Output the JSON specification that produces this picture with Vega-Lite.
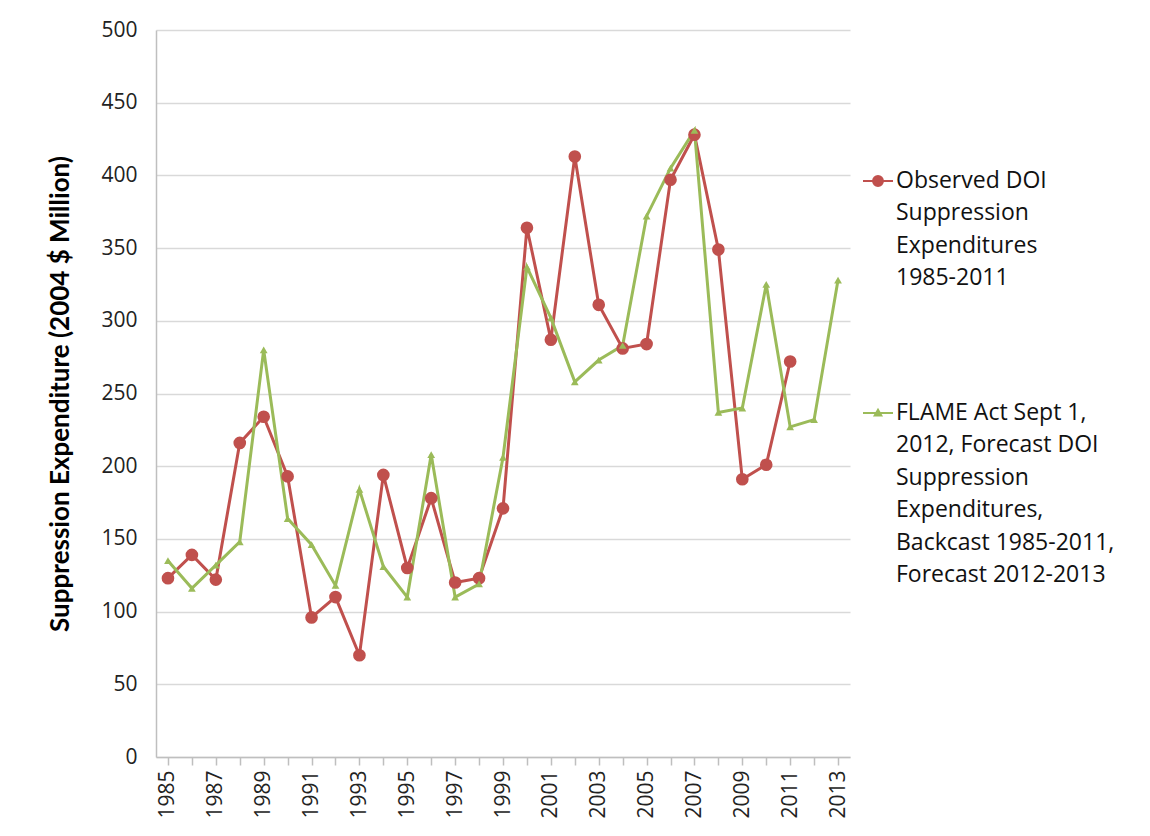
{
  "$schema": "https://vega.github.io/schema/vega-lite/v6.json",
  "width": 694,
  "height": 727,
  "autosize": {"type": "none"},
  "padding": {"left": 156, "top": 30, "right": 300, "bottom": 79},
  "background": "white",
  "config": {"font": "Open Sans", "view": {"stroke": null}},
  "data": {
    "values": [
      {"year": 1985, "series": "Observed", "value": 123},
      {"year": 1986, "series": "Observed", "value": 139},
      {"year": 1987, "series": "Observed", "value": 122},
      {"year": 1988, "series": "Observed", "value": 216},
      {"year": 1989, "series": "Observed", "value": 234},
      {"year": 1990, "series": "Observed", "value": 193},
      {"year": 1991, "series": "Observed", "value": 96},
      {"year": 1992, "series": "Observed", "value": 110},
      {"year": 1993, "series": "Observed", "value": 70},
      {"year": 1994, "series": "Observed", "value": 194},
      {"year": 1995, "series": "Observed", "value": 130},
      {"year": 1996, "series": "Observed", "value": 178},
      {"year": 1997, "series": "Observed", "value": 120},
      {"year": 1998, "series": "Observed", "value": 123},
      {"year": 1999, "series": "Observed", "value": 171},
      {"year": 2000, "series": "Observed", "value": 364},
      {"year": 2001, "series": "Observed", "value": 287},
      {"year": 2002, "series": "Observed", "value": 413},
      {"year": 2003, "series": "Observed", "value": 311},
      {"year": 2004, "series": "Observed", "value": 281},
      {"year": 2005, "series": "Observed", "value": 284},
      {"year": 2006, "series": "Observed", "value": 397},
      {"year": 2007, "series": "Observed", "value": 428},
      {"year": 2008, "series": "Observed", "value": 349},
      {"year": 2009, "series": "Observed", "value": 191},
      {"year": 2010, "series": "Observed", "value": 201},
      {"year": 2011, "series": "Observed", "value": 272},
      {"year": 1985, "series": "Forecast", "value": 135},
      {"year": 1986, "series": "Forecast", "value": 116},
      {"year": 1987, "series": "Forecast", "value": 132},
      {"year": 1988, "series": "Forecast", "value": 148},
      {"year": 1989, "series": "Forecast", "value": 280},
      {"year": 1990, "series": "Forecast", "value": 164},
      {"year": 1991, "series": "Forecast", "value": 146},
      {"year": 1992, "series": "Forecast", "value": 118},
      {"year": 1993, "series": "Forecast", "value": 184},
      {"year": 1994, "series": "Forecast", "value": 131},
      {"year": 1995, "series": "Forecast", "value": 110},
      {"year": 1996, "series": "Forecast", "value": 208},
      {"year": 1997, "series": "Forecast", "value": 110},
      {"year": 1998, "series": "Forecast", "value": 119},
      {"year": 1999, "series": "Forecast", "value": 206},
      {"year": 2000, "series": "Forecast", "value": 337},
      {"year": 2001, "series": "Forecast", "value": 302},
      {"year": 2002, "series": "Forecast", "value": 258},
      {"year": 2003, "series": "Forecast", "value": 273},
      {"year": 2004, "series": "Forecast", "value": 283},
      {"year": 2005, "series": "Forecast", "value": 372},
      {"year": 2006, "series": "Forecast", "value": 405},
      {"year": 2007, "series": "Forecast", "value": 431},
      {"year": 2008, "series": "Forecast", "value": 237},
      {"year": 2009, "series": "Forecast", "value": 240},
      {"year": 2010, "series": "Forecast", "value": 325},
      {"year": 2011, "series": "Forecast", "value": 227},
      {"year": 2012, "series": "Forecast", "value": 232},
      {"year": 2013, "series": "Forecast", "value": 328}
    ]
  },
  "encoding": {
    "x": {
      "field": "year",
      "type": "ordinal",
      "scale": {"paddingInner": 0, "paddingOuter": 0},
      "axis": {
        "title": null,
        "labelAngle": -90,
        "labelFontSize": 21,
        "labelColor": "#222",
        "labelPadding": 5,
        "labelExpr": "datum.value % 2 == 1 ? datum.label : ''",
        "tickSize": 8,
        "tickColor": "#bfbfbf",
        "tickWidth": 1.5,
        "domainColor": "#bfbfbf",
        "domainWidth": 1.5,
        "grid": false
      }
    },
    "y": {
      "field": "value",
      "type": "quantitative",
      "scale": {"domain": [0, 500], "nice": false},
      "axis": {
        "title": "Suppression Expenditure (2004 $ Million)",
        "titleFont": "Lato",
        "titleFontSize": 26,
        "titleFontWeight": "bold",
        "titleColor": "#000",
        "titlePadding": 27,
        "values": [0, 50, 100, 150, 200, 250, 300, 350, 400, 450, 500],
        "labelFontSize": 21,
        "labelColor": "#222",
        "labelPadding": 19,
        "ticks": false,
        "domainColor": "#bfbfbf",
        "domainWidth": 1.5,
        "gridColor": "#d9d9d9",
        "gridWidth": 1.5
      }
    },
    "color": {
      "field": "series",
      "type": "nominal",
      "scale": {"domain": ["Observed", "Forecast"], "range": ["#C0504D", "#9BBB59"]},
      "legend": {
        "title": null,
        "orient": "none",
        "legendX": 706,
        "legendY": 135,
        "symbolSize": 900,
        "symbolStrokeWidth": 2,
        "labelFontSize": 23,
        "labelColor": "#111",
        "labelLimit": 400,
        "labelOffset": 2,
        "labelBaseline": "top",
        "rowPadding": 107,
        "labelExpr": "datum.value == 'Observed' ? ['Observed DOI', 'Suppression', 'Expenditures', '1985-2011'] : ['FLAME Act Sept 1,', '2012, Forecast DOI', 'Suppression', 'Expenditures,', 'Backcast 1985-2011,', 'Forecast 2012-2013']",
        "encode": {
          "symbols": {
            "update": {
              "shape": {"signal": "datum.value == 'Observed' ? 'M-1,0L1,0M0.33,0A0.33,0.33,0,1,1,-0.33,0A0.33,0.33,0,1,1,0.33,0Z' : 'M-1,0L1,0M0,-0.22L0.22,0.16L-0.22,0.16Z'"},
              "fill": {"scale": "color", "field": "value"},
              "stroke": {"scale": "color", "field": "value"},
              "opacity": {"value": 1},
              "fillOpacity": {"value": 1}
            }
          },
          "labels": {
            "update": {"lineHeight": {"value": 32.5}, "dy": {"value": -11.5}}
          }
        }
      }
    }
  },
  "layer": [
    {"mark": {"type": "line", "strokeWidth": 3}},
    {
      "transform": [{"filter": "datum.series == 'Observed'"}],
      "mark": {"type": "point", "shape": "circle", "filled": true, "size": 160, "opacity": 1}
    },
    {
      "transform": [{"filter": "datum.series == 'Forecast'"}],
      "mark": {"type": "point", "shape": "triangle-up", "filled": true, "size": 60, "opacity": 1}
    }
  ]
}
